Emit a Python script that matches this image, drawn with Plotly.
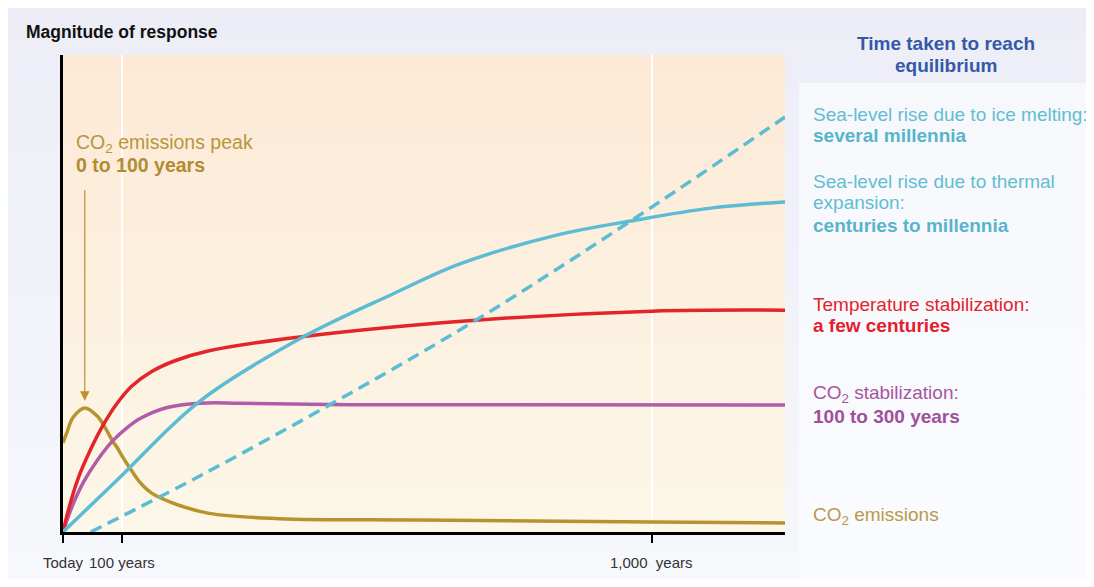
import plotly.graph_objects as go

# ---------------- data (years after today, magnitude 0-100) ----------------
emis_x = [0, 7, 17, 37, 58, 71, 85, 92, 102, 119, 130, 150, 188, 248, 367, 604, 1000, 1226]
emis_y = [18.7, 21.0, 24.0, 26.0, 24.3, 22.0, 18.9, 17.7, 15.6, 12.4, 10.5, 8.2, 6.0, 3.9, 2.8, 2.5, 2.1, 1.9]

temp_x = [0, 10, 25, 45, 70, 92, 117, 150, 190, 248, 402, 701, 1000, 1226]
temp_y = [0, 5.0, 11.0, 16.8, 22.8, 27.0, 30.6, 33.6, 35.9, 38.0, 40.9, 44.4, 46.3, 46.5]

co2s_x = [0, 15, 35, 58, 85, 109, 131, 177, 233, 300, 487, 1226]
co2s_y = [0, 5.2, 10.5, 15.0, 19.2, 21.9, 23.8, 26.1, 27.0, 27.0, 26.7, 26.6]

therm_x = [0, 92, 231, 402, 560, 674, 840, 964, 1100, 1226]
therm_y = [0, 10.9, 27.3, 40.5, 49.9, 56.2, 62.3, 65.2, 67.9, 69.2]

ice_x = [47, 233, 462, 701, 964, 1226]
ice_y = [0, 11.8, 27.3, 44.4, 65.2, 87.0]

tick_vals = [0, 100, 1000]
tick_text = ["Today", "100 years", "1,000  years"]

# ---------------- styling ----------------
GOLD = "#B8922E"
RED = "#E3242B"
PURPLE = "#B05CA8"
CYAN = "#5BBCD4"
OFF = 8                       # page body margin
W, H = 1086, 571              # figure size
L, R, T, B = 63, 785, 55, 532  # plot area in screen pixels


def px_x(px):
    return (px - L) / (R - L)


def px_y(py):
    return (B - py) / (B - T)


def lerp(c1, c2, t):
    return "rgb(%d,%d,%d)" % tuple(round(a + (b - a) * t) for a, b in zip(c1, c2))


shapes = []


def gradient(x0, x1, y0, y1, ctop, cbot, n=60):
    for i in range(n):
        ya = y0 + (y1 - y0) * i / n
        yb = min(y0 + (y1 - y0) * (i + 1) / n + 0.6, y1)
        shapes.append(dict(type="rect", xref="paper", yref="paper",
                           x0=px_x(x0), x1=px_x(x1), y0=px_y(ya), y1=px_y(yb),
                           fillcolor=lerp(ctop, cbot, (i + 0.5) / n),
                           line=dict(width=0), layer="below"))


PLOT_TOP = (253, 233, 214)
PLOT_BOT = (252, 247, 232)
gradient(OFF, OFF + W + 20, OFF, OFF + H, (236, 237, 246), (246, 248, 252))
gradient(799, OFF + W + 20, 83, OFF + H, (247, 248, 252), (250, 251, 254))
gradient(L, R, T, B, PLOT_TOP, PLOT_BOT)

# gap in the 100-year gridline behind the peak label
gap_bg = lerp(PLOT_TOP, PLOT_BOT, (153 - T) / (B - T))
shapes.append(dict(type="rect", xref="paper", yref="paper",
                   x0=px_x(110), x1=px_x(126), y0=px_y(180), y1=px_y(127),
                   fillcolor=gap_bg, line=dict(width=0), layer="between"))

fig = go.Figure()


def add(x, y, color, dash=None):
    fig.add_trace(go.Scatter(x=x, y=y, mode="lines",
                             line=dict(color=color, width=3.5, shape="spline",
                                       smoothing=1.0, dash=dash),
                             hoverinfo="skip", showlegend=False))


add(emis_x, emis_y, GOLD)
add(co2s_x, co2s_y, PURPLE)
add(temp_x, temp_y, RED)
add(therm_x, therm_y, CYAN)
add(ice_x, ice_y, CYAN, dash="12px,7px")

FONT = "Liberation Sans, Arial, sans-serif"
ann = []


def label(py, text, color, size=19, x=812, xanchor="left"):
    ann.append(dict(xref="paper", yref="paper", x=px_x(x), y=px_y(py),
                    xanchor=xanchor, yanchor="middle", align="left", showarrow=False,
                    text=text, font=dict(family=FONT, size=size, color=color),
                    borderpad=0))


CYT = "#62BDD3"
# title
label(32, "<b>Magnitude of response</b>", "#111111", size=17.5, x=25)
# right header
label(43, "<b>Time taken to reach</b>", "#3559A8", x=946, xanchor="center")
label(65, "<b>equilibrium</b>", "#3559A8", x=946, xanchor="center")
label(115, "Sea-level rise due to ice melting:", CYT)
label(136, "<b>several millennia</b>", "#58B4CB")
label(181, "Sea-level rise due to thermal", CYT)
label(203, "expansion:", CYT)
label(225, "<b>centuries to millennia</b>", "#58B4CB")
label(304, "Temperature stabilization:", RED)
label(325, "<b>a few centuries</b>", "#E0202E")
label(394, "CO<sub>2</sub> stabilization:", "#A8559F")
label(416, "<b>100 to 300 years</b>", "#A0509A")
label(516, "CO<sub>2</sub> emissions", "#B89A4A")
# peak annotation
label(143, "CO<sub>2</sub> emissions peak", "#B8963A", size=19.5, x=75)
label(165, "<b>0 to 100 years</b>", "#B08C34", size=19.5, x=75)

# x tick labels placed under the ticks
for v, t in zip(tick_vals, tick_text):
    ann.append(dict(xref="x", yref="paper", x=v, y=px_y(562), xanchor="center",
                    yanchor="middle", showarrow=False, text=t,
                    font=dict(family=FONT, size=15, color="#333333")))

# arrow pointing to the peak
ann.append(dict(x=emis_x[3], y=27.5, xref="x", yref="y", ax=0, ay=-212,
                showarrow=True, arrowhead=2, arrowsize=1.6, arrowwidth=1.2,
                arrowcolor=GOLD, text=""))

fig.update_layout(
    width=W, height=H, autosize=False,
    margin=dict(l=L - OFF, r=OFF + W - R, t=T - OFF, b=OFF + H - B, pad=0),
    paper_bgcolor="rgb(240,242,249)", plot_bgcolor="rgba(0,0,0,0)",
    shapes=shapes, annotations=ann,
    font=dict(family=FONT),
    xaxis=dict(range=[0, 1226], tickvals=tick_vals, ticktext=tick_text,
               showticklabels=False,
               showgrid=True, gridcolor="white", gridwidth=2, zeroline=False,
               showline=True, linecolor="black", linewidth=2.5,
               ticks="outside", ticklen=8, tickwidth=2, tickcolor="black",
               fixedrange=True),
    yaxis=dict(range=[0, 100], showgrid=False, zeroline=False,
               showline=True, linecolor="black", linewidth=2.5,
               showticklabels=False, ticks="", fixedrange=True),
)

fig.write_html("out.html")
